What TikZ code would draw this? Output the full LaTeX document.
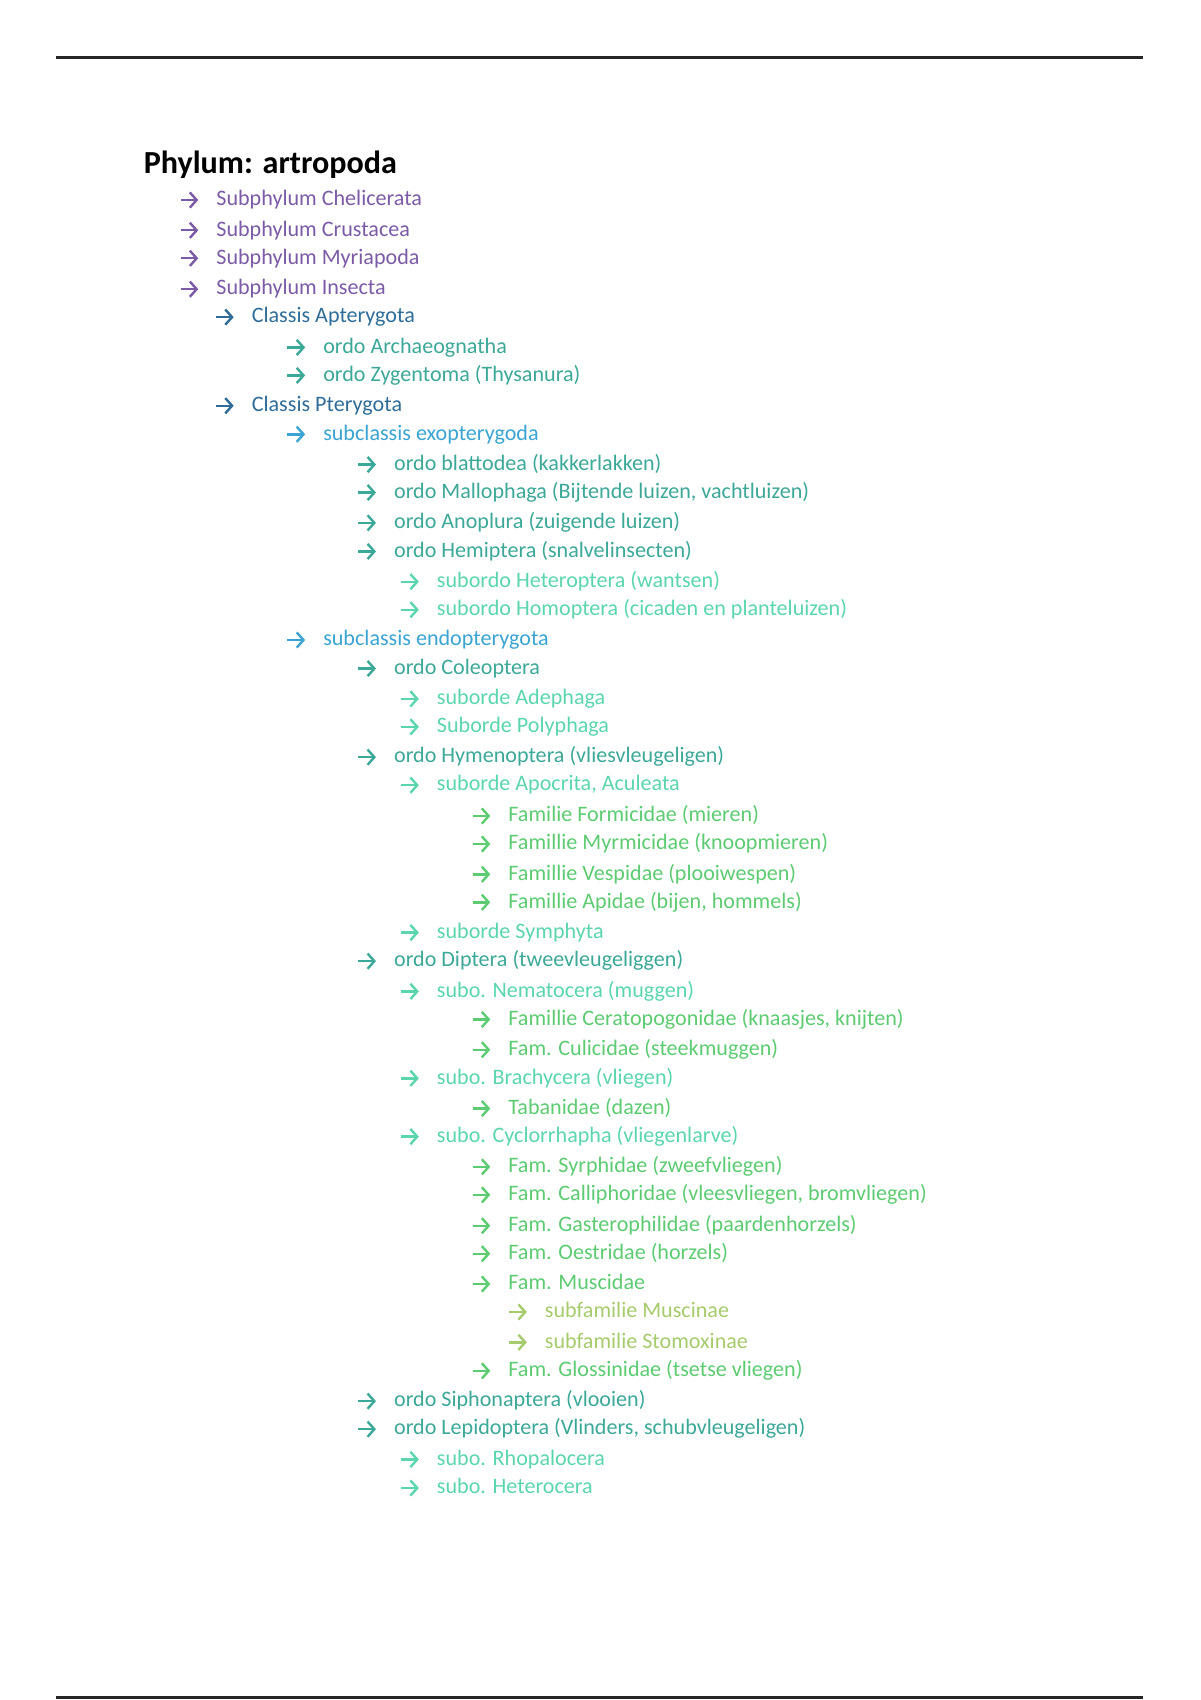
\documentclass[tikz,border=0pt]{standalone}
\usepackage{fontspec}
\setmainfont{Carlito}
\usetikzlibrary{arrows.meta}
\definecolor{subphyl}{HTML}{7B5BA6}
\definecolor{classis}{HTML}{2F6D98}
\definecolor{ordo}{HTML}{3CA898}
\definecolor{subclass}{HTML}{3BA4D2}
\definecolor{subord}{HTML}{5BD6AC}
\definecolor{famil}{HTML}{5DCB72}
\definecolor{subfam}{HTML}{A6CB6C}
\begin{document}
\begin{tikzpicture}[
  item/.style={anchor=base west, inner sep=0pt, font=\fontsize{11}{13}\selectfont},
  bullet/.style={line width=1.2pt, -{Straight Barb[length=3.4pt, width=7.6pt]}},
]
\useasboundingbox (0,0) rectangle (21,-29.75);
\draw[line width=1.5pt, black!85] (0.98,-1.01) -- (20.0,-1.01);
\draw[line width=1.5pt, black!85] (0.98,-29.71) -- (20.0,-29.71);
\node[anchor=base west, inner sep=0pt, font=\fontsize{16}{19}\selectfont\bfseries] (title) at (2.51,-3.03) {Phylum: artropoda};
% subphyla
\node[item, text=subphyl] (t1) at (3.78,-3.60) {Subphylum Chelicerata};
\node[item, text=subphyl] (t2) at (3.78,-4.13) {Subphylum Crustacea};
\node[item, text=subphyl] (t3) at (3.78,-4.62) {Subphylum Myriapoda};
\node[item, text=subphyl] (t4) at (3.78,-5.16) {Subphylum Insecta};
% classis
\node[item, text=classis] (t5) at (4.40,-5.65) {Classis Apterygota};
\node[item, text=ordo] (t6) at (5.65,-6.18) {ordo Archaeognatha};
\node[item, text=ordo] (t7) at (5.65,-6.67) {ordo Zygentoma (Thysanura)};
\node[item, text=classis] (t8) at (4.40,-7.20) {Classis Pterygota};
\node[item, text=subclass] (t9) at (5.65,-7.70) {subclassis exopterygoda};
\node[item, text=ordo] (t10) at (6.89,-8.23) {ordo blattodea (kakkerlakken)};
\node[item, text=ordo] (t11) at (6.89,-8.72) {ordo Mallophaga (Bijtende luizen, vachtluizen)};
\node[item, text=ordo] (t12) at (6.89,-9.25) {ordo Anoplura (zuigende luizen)};
\node[item, text=ordo] (t13) at (6.89,-9.75) {ordo Hemiptera (snalvelinsecten)};
\node[item, text=subord] (t14) at (7.64,-10.28) {subordo Heteroptera (wantsen)};
\node[item, text=subord] (t15) at (7.64,-10.77) {subordo Homoptera (cicaden en planteluizen)};
\node[item, text=subclass] (t16) at (5.65,-11.30) {subclassis endopterygota};
\node[item, text=ordo] (t17) at (6.89,-11.80) {ordo Coleoptera};
\node[item, text=subord] (t18) at (7.64,-12.33) {suborde Adephaga};
\node[item, text=subord] (t19) at (7.64,-12.82) {Suborde Polyphaga};
\node[item, text=ordo] (t20) at (6.89,-13.35) {ordo Hymenoptera (vliesvleugeligen)};
\node[item, text=subord] (t21) at (7.64,-13.84) {suborde Apocrita, Aculeata};
\node[item, text=famil] (t22) at (8.89,-14.38) {Familie Formicidae (mieren)};
\node[item, text=famil] (t23) at (8.89,-14.87) {Famillie Myrmicidae (knoopmieren)};
\node[item, text=famil] (t24) at (8.89,-15.40) {Famillie Vespidae (plooiwespen)};
\node[item, text=famil] (t25) at (8.89,-15.89) {Famillie Apidae (bijen, hommels)};
\node[item, text=subord] (t26) at (7.64,-16.42) {suborde Symphyta};
\node[item, text=ordo] (t27) at (6.89,-16.92) {ordo Diptera (tweevleugeliggen)};
\node[item, text=subord] (t28) at (7.64,-17.45) {subo. Nematocera (muggen)};
\node[item, text=famil] (t29) at (8.89,-17.94) {Famillie Ceratopogonidae (knaasjes, knijten)};
\node[item, text=famil] (t30) at (8.89,-18.47) {Fam. Culicidae (steekmuggen)};
\node[item, text=subord] (t31) at (7.64,-18.97) {subo. Brachycera (vliegen)};
\node[item, text=famil] (t32) at (8.89,-19.50) {Tabanidae (dazen)};
\node[item, text=subord] (t33) at (7.64,-19.99) {subo. Cyclorrhapha (vliegenlarve)};
\node[item, text=famil] (t34) at (8.89,-20.52) {Fam. Syrphidae (zweefvliegen)};
\node[item, text=famil] (t35) at (8.89,-21.01) {Fam. Calliphoridae (vleesvliegen, bromvliegen)};
\node[item, text=famil] (t36) at (8.89,-21.55) {Fam. Gasterophilidae (paardenhorzels)};
\node[item, text=famil] (t37) at (8.89,-22.04) {Fam. Oestridae (horzels)};
\node[item, text=famil] (t38) at (8.89,-22.57) {Fam. Muscidae};
\node[item, text=subfam] (t39) at (9.53,-23.06) {subfamilie Muscinae};
\node[item, text=subfam] (t40) at (9.53,-23.59) {subfamilie Stomoxinae};
\node[item, text=famil] (t41) at (8.89,-24.09) {Fam. Glossinidae (tsetse vliegen)};
\node[item, text=ordo] (t42) at (6.89,-24.62) {ordo Siphonaptera (vlooien)};
\node[item, text=ordo] (t43) at (6.89,-25.11) {ordo Lepidoptera (Vlinders, schubvleugeligen)};
\node[item, text=subord] (t44) at (7.64,-25.64) {subo. Rhopalocera};
\node[item, text=subord] (t45) at (7.64,-26.14) {subo. Heterocera};
% arrow bullets
\foreach \n/\c in {t1/subphyl, t2/subphyl, t3/subphyl, t4/subphyl, t5/classis, t6/ordo, t7/ordo,
  t8/classis, t9/subclass, t10/ordo, t11/ordo, t12/ordo, t13/ordo, t14/subord, t15/subord,
  t16/subclass, t17/ordo, t18/subord, t19/subord, t20/ordo, t21/subord, t22/famil, t23/famil,
  t24/famil, t25/famil, t26/subord, t27/ordo, t28/subord, t29/famil, t30/famil, t31/subord,
  t32/famil, t33/subord, t34/famil, t35/famil, t36/famil, t37/famil, t38/famil, t39/subfam,
  t40/subfam, t41/famil, t42/ordo, t43/ordo, t44/subord, t45/subord}
  \draw[bullet, draw=\c] ([shift={(-0.62,0.10)}]\n.base west) -- ++(0.31,0);
\end{tikzpicture}
\end{document}
